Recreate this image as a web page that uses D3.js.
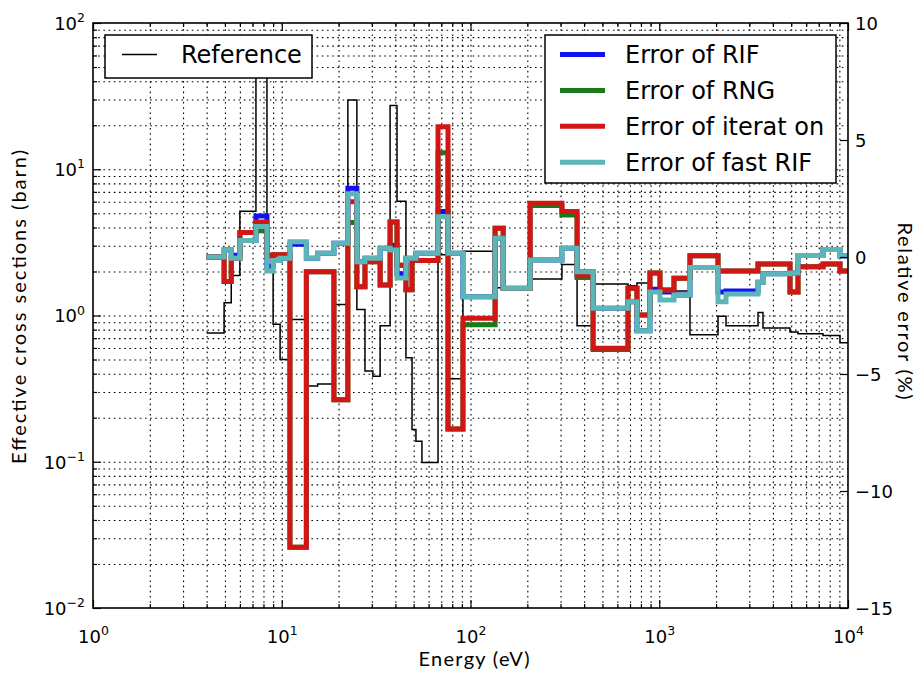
<!DOCTYPE html>
<html><head><meta charset="utf-8">
<script src="https://cdn.jsdelivr.net/npm/d3@7"></script>
<style>body{margin:0;background:#fff}svg{display:block}</style>
</head><body>
<svg id="chart" width="922" height="673"></svg>
<script>
// ---- data ----
// energy group boundaries (eV)
const groupBounds = [4, 4.95, 5.4, 6, 7.3, 8.35, 9, 9.8, 11.05, 13.5, 15.5, 18.9, 22.4, 25, 27.6, 30.4, 33.2, 37.5, 40.8, 45.5, 49, 51.4, 55.3, 67.3, 76, 91.2, 135, 149, 207, 305, 367, 446, 683, 762, 893, 1009, 1197, 1455, 2048, 2258, 3336, 3545, 4928, 5435, 7372, 9070, 10000];
// reference effective cross sections (barn), one per group
const referenceXS = [0.76, 1.22, 1.88, 5.17, 60, 2.0, 0.87, 0.5, 0.94, 0.33, 0.34, 1.19, 29.7, 1.1, 0.417, 0.385, 0.85, 27.3, 6.05, 0.514, 0.166, 0.138, 0.099, 2.6, 0.37, 2.75, 1.55, 1.55, 1.78, 2.23, 0.85, 1.64, 1.6, 1.67, 1.55, 1.5, 1.47, 0.74, 0.99, 0.85, 1.05, 0.82, 0.77, 0.75, 0.73, 0.65];
// relative errors (%)
const errRIF       = [0, 0.3, 0.08, 0.7, 1.75, -0.4, -0.15, -0.05, 0.55, -0.05, 0.16, 0.59, 2.94, -0.2, -0.05, -0.05, 0.37, 0.5, -0.72, -0.05, -0.05, 0.16, 0.16, 1.94, 0.16, -1.7, 0.8, -1.34, -0.13, 0.37, -0.63, -2.19, -1.91, -3.15, -1.38, -1.5, -1.62, -0.45, -1.5, -1.45, -1.08, -0.72, -0.68, 0.06, 0.32, 0.04];
const errRNG       = [0, -1.05, -0.05, 1.05, 1.12, 0.05, 0.1, 0.1, -12.4, -0.63, -0.63, -6.1, 1.47, -1.27, -0.2, -0.2, -1.2, 1.5, -0.35, -1.4, -0.1, -0.15, -0.15, 4.46, -7.35, -2.9, 1.23, -1.35, 2.2, 1.8, -0.88, -3.95, -1.34, -2.48, -0.68, -1.41, -0.91, 0.05, -0.6, -0.6, -0.3, -0.3, -1.5, -0.42, -0.3, -0.6];
const errIteration = [0, -1.05, -0.05, 1.05, 1.5, 0.05, 0.1, 0.1, -12.4, -0.63, -0.63, -6.1, 2.36, -1.27, -0.2, -0.2, -1.2, 1.5, -0.35, -1.4, -0.1, -0.15, -0.15, 5.57, -7.35, -2.62, 1.23, -1.35, 2.3, 1.94, -0.8, -3.9, -1.34, -2.48, -0.68, -1.41, -0.91, 0.05, -0.6, -0.6, -0.3, -0.3, -1.5, -0.42, -0.3, -0.6];
const errFastRIF   = [0, 0.3, -0.05, 0.7, 1.3, -0.6, -0.15, -0.05, 0.65, -0.05, 0.16, 0.59, 2.7, -0.2, -0.05, -0.05, 0.37, 0.3, -0.9, -0.05, -0.05, 0.16, 0.16, 1.72, 0.16, -1.7, 0.8, -1.34, -0.13, 0.37, -0.63, -2.19, -1.91, -3.15, -1.5, -1.84, -1.62, -0.45, -1.91, -1.58, -1.08, -0.72, -0.68, 0.06, 0.32, 0.04];
// ticks
const xTickExps = [0, 1, 2, 3, 4];
const yLeftTickExps = [-2, -1, 0, 1, 2];
const yRightTicks = [10, 5, 0, -5, -10, -15];
// legends / titles
const legendLeftLabels = ["Reference"];
const legendRightLabels = ["Error of RIF", "Error of RNG", "Error of iterat on", "Error of fast RIF"];
const xTitle = "Energy (eV)";
const yLeftTitle = "Effective cross sections (barn)";
const yRightTitle = "Relative error (%)";

// ---- layout ----
const L = 93, R = 848, T = 23, B = 608;
const errColors = ["#1010f0", "#1a7a1a", "#d11616", "#5cb6b8"];
const svg = d3.select("#chart");
const x = d3.scaleLog().domain([1, 1e4]).range([L, R]);
const yL = d3.scaleLog().domain([1e-2, 1e2]).range([B, T]);
const yR = d3.scaleLinear().domain([-15, 10]).range([B, T]);

const xMajor = xTickExps.map(e => 10 ** e);
const yMajor = yLeftTickExps.map(e => 10 ** e);
const xMinor = [], yMinor = [];
for (let k = 0; k < 4; k++) for (let m = 2; m < 10; m++) xMinor.push(m * 10 ** k);
for (let k = -2; k < 2; k++) for (let m = 2; m < 10; m++) yMinor.push(m * 10 ** k);

const FONT = "'DejaVu Sans', sans-serif";

// ---- grid ----
const gx = svg.append("g").attr("transform", `translate(0,${B})`)
  .call(d3.axisBottom(x).tickValues(xMajor.concat(xMinor).filter(v => v > 1 && v < 1e4)).tickSize(-(B - T)).tickFormat(""));
const gy = svg.append("g").attr("transform", `translate(${L},0)`)
  .call(d3.axisLeft(yL).tickValues(yMajor.concat(yMinor).filter(v => v > 1e-2 && v < 1e2)).tickSize(-(R - L)).tickFormat(""));
[gx, gy].forEach(g => {
  g.select(".domain").remove();
  g.selectAll("line").attr("stroke", "#000").attr("stroke-width", 1.1).attr("stroke-dasharray", "1.6,3.6");
});

// ---- data lines ----
svg.append("clipPath").attr("id", "clip").append("rect").attr("x", L).attr("y", T).attr("width", R - L).attr("height", B - T);
const plot = svg.append("g").attr("clip-path", "url(#clip)");
function stepPts(vals) {
  const p = vals.map((v, i) => [groupBounds[i], v]);
  p.push([groupBounds[groupBounds.length - 1], vals[vals.length - 1]]);
  return p;
}
const refLine = d3.line().x(d => x(d[0])).y(d => yL(d[1])).curve(d3.curveStepAfter);
const errLine = d3.line().x(d => x(d[0])).y(d => yR(d[1])).curve(d3.curveStepAfter);
plot.append("path").attr("d", refLine(stepPts(referenceXS))).attr("fill", "none").attr("stroke", "#000").attr("stroke-width", 1.5);
[errRIF, errRNG, errIteration, errFastRIF].forEach((s, i) => {
  plot.append("path").attr("d", errLine(stepPts(s))).attr("fill", "none")
    .attr("stroke", errColors[i]).attr("stroke-width", 5).attr("stroke-linejoin", "miter");
});

// ---- axes ----
function supLabels(g) {
  g.selectAll(".tick text").each(function (d) {
    const e = Math.round(Math.log10(d));
    const t = d3.select(this); t.text(null);
    t.append("tspan").text("10");
    t.append("tspan").attr("dy", "-0.62em").attr("font-size", "12.5px").text(e < 0 ? "\u2212" + (-e) : String(e));
  });
}
function styleAxis(g) {
  g.select(".domain").remove();
  g.selectAll("line").attr("stroke", "#000").attr("stroke-width", 1.2);
  g.selectAll("text").attr("font-family", FONT).attr("font-size", "18px").attr("fill", "#000");
}
// bottom
const ax = svg.append("g").attr("transform", `translate(0,${B})`)
  .call(d3.axisBottom(x).tickValues(xMajor).tickSize(-8).tickPadding(22));
styleAxis(ax); supLabels(ax);
const axm = svg.append("g").attr("transform", `translate(0,${B})`)
  .call(d3.axisBottom(x).tickValues(xMinor).tickSize(-4).tickFormat(""));
styleAxis(axm);
// top
const at = svg.append("g").attr("transform", `translate(0,${T})`)
  .call(d3.axisTop(x).tickValues(xMajor).tickSize(-8).tickFormat(""));
styleAxis(at);
const atm = svg.append("g").attr("transform", `translate(0,${T})`)
  .call(d3.axisTop(x).tickValues(xMinor).tickSize(-4).tickFormat(""));
styleAxis(atm);
// left
const al = svg.append("g").attr("transform", `translate(${L},0)`)
  .call(d3.axisLeft(yL).tickValues(yMajor).tickSize(-8).tickPadding(8));
styleAxis(al); supLabels(al);
al.selectAll(".tick text").attr("dy", "0.36em");
const alm = svg.append("g").attr("transform", `translate(${L},0)`)
  .call(d3.axisLeft(yL).tickValues(yMinor).tickSize(-4).tickFormat(""));
styleAxis(alm);
// right
const ar = svg.append("g").attr("transform", `translate(${R},0)`)
  .call(d3.axisRight(yR).tickValues(yRightTicks).tickSize(-8).tickPadding(7)
    .tickFormat(d => d < 0 ? "\u2212" + (-d) : String(d)));
styleAxis(ar);
ar.selectAll(".tick text").attr("dy", "0.36em");

// frame
svg.append("rect").attr("x", L).attr("y", T).attr("width", R - L).attr("height", B - T)
  .attr("fill", "none").attr("stroke", "#000").attr("stroke-width", 1.6);

// ---- titles ----
const TFONT = "Lato, 'Open Sans', sans-serif";
svg.append("text").attr("x", 474).attr("y", 666).attr("text-anchor", "middle")
  .attr("font-family", TFONT).attr("font-size", "20px").attr("textLength", 111).text(xTitle);
svg.append("text").attr("transform", "translate(26,307) rotate(-90)").attr("text-anchor", "middle")
  .attr("font-family", TFONT).attr("font-size", "20px").attr("textLength", 314).text(yLeftTitle);
svg.append("text").attr("transform", "translate(898,311) rotate(90)").attr("text-anchor", "middle")
  .attr("font-family", TFONT).attr("font-size", "20px").attr("textLength", 177).text(yRightTitle);

// ---- legends ----
const lg1 = svg.append("g");
lg1.append("rect").attr("x", 105).attr("y", 35).attr("width", 207).attr("height", 43)
  .attr("fill", "#fff").attr("stroke", "#000").attr("stroke-width", 1.5);
legendLeftLabels.forEach((lab, i) => {
  lg1.append("line").attr("x1", 122).attr("x2", 157).attr("y1", 54.5).attr("y2", 54.5).attr("stroke", "#000").attr("stroke-width", 1.5);
  lg1.append("text").attr("x", 181).attr("y", 63).attr("font-family", FONT).attr("font-size", "24px").text(lab);
});
const lg2 = svg.append("g");
lg2.append("rect").attr("x", 545).attr("y", 35).attr("width", 291).attr("height", 148)
  .attr("fill", "#fff").attr("stroke", "#000").attr("stroke-width", 1.5);
legendRightLabels.forEach((lab, i) => {
  const yy = 54.5 + i * 35.9;
  lg2.append("line").attr("x1", 560).attr("x2", 605).attr("y1", yy).attr("y2", yy).attr("stroke", errColors[i]).attr("stroke-width", 5);
  lg2.append("text").attr("x", 625).attr("y", yy + 8.3).attr("font-family", FONT).attr("font-size", "24px").text(lab);
});
</script>
</body></html>
